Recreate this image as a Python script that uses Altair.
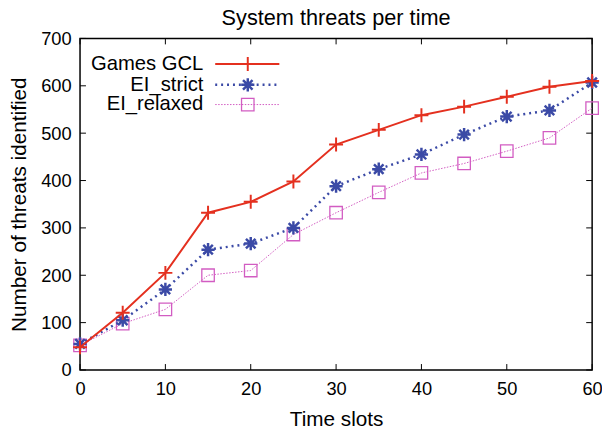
import altair as alt
import pandas as pd

# ---- data ----
time_slots = [0, 5, 10, 15, 20, 25, 30, 35, 40, 45, 50, 55, 60]
games_gcl = [48, 121, 205, 332, 355, 398, 476, 507, 538, 556, 577, 598, 610]
ei_strict = [55, 105, 170, 254, 267, 300, 388, 424, 455, 497, 535, 548, 607]
ei_relaxed = [52, 98, 128, 200, 210, 286, 332, 375, 416, 436, 462, 490, 553]
series_names = ["Games GCL", "EI_strict", "EI_relaxed"]
x_ticks = [0, 10, 20, 30, 40, 50, 60]
y_ticks = [0, 100, 200, 300, 400, 500, 600, 700]

W, H = 519, 336
FONT = "Liberation Sans"
RED, BLUE, PINK = "#e4301f", "#3b4aa6", "#d25cc2"
PLUS = "M-1,0L1,0M0,-1L0,1"
STAR = "M-1,0L1,0M0,-1L0,1M-0.72,-0.72L0.72,0.72M-0.72,0.72L0.72,-0.72"

xs = alt.Scale(domain=[0, 60], nice=False)
ys = alt.Scale(domain=[0, 700], nice=False)
xaxis = alt.Axis(title="Time slots", values=x_ticks, grid=False, ticks=False, tickSize=0,
                 domain=False, labelPadding=10, labelFontSize=18.5, titleFontSize=21,
                 titleFontWeight="normal", titleBaseline="alphabetic", titleY=56,
                 titleX=W / 2, titleAlign="center", labelFlush=False, labelOverlap=False)
yaxis = alt.Axis(title="Number of threats identified", values=y_ticks, grid=False, ticks=False,
                 tickSize=0, domain=False, labelPadding=9, labelFontSize=18.5, titleFontSize=21,
                 titleFontWeight="normal", titleBaseline="alphabetic", titleX=-55,
                 titleY=H / 2, titleAlign="center", titleAngle=270, labelFlush=False,
                 labelOverlap=False)


def series_layer(values, color, shape, size, mark_sw, line_sw, dash):
    df = pd.DataFrame({"t": time_slots, "v": values})
    base = alt.Chart(df).encode(
        x=alt.X("t:Q", scale=xs, axis=xaxis),
        y=alt.Y("v:Q", scale=ys, axis=yaxis),
    )
    line_kw = dict(color=color, strokeWidth=line_sw, clip=False)
    if dash:
        line_kw["strokeDash"] = dash
    line = base.mark_line(**line_kw)
    pts = base.mark_point(shape=shape, size=size, filled=False, stroke=color,
                          strokeWidth=mark_sw, opacity=1, clip=False)
    return line + pts


gcl_layer = series_layer(games_gcl, RED, PLUS, 200, 2, 2, None)
strict_layer = series_layer(ei_strict, BLUE, STAR, 180, 2.5, 2.5, [2, 4])
relaxed_layer = series_layer(ei_relaxed, PINK, "square", 160, 1.3, 1, [1.5, 1.5])

# ---- inward ticks on all four sides ----
xt = pd.DataFrame({"tx": x_ticks})
yt = pd.DataFrame({"ty": y_ticks})
TL = 6
tick_kw = dict(color="black", strokeWidth=1)
bx = alt.X("tx:Q", scale=xs, axis=xaxis)
by = alt.Y("ty:Q", scale=ys, axis=yaxis)
ticks = (
    alt.Chart(xt).mark_rule(**tick_kw).encode(x=bx, y=alt.value(H), y2=alt.value(H - TL))
    + alt.Chart(xt).mark_rule(**tick_kw).encode(x=bx, y=alt.value(0), y2=alt.value(TL))
    + alt.Chart(yt).mark_rule(**tick_kw).encode(y=by, x=alt.value(0), x2=alt.value(TL))
    + alt.Chart(yt).mark_rule(**tick_kw).encode(y=by, x=alt.value(W), x2=alt.value(W - TL))
)

# ---- legend (gnuplot style: label left, sample right) ----
leg_rows = [26, 47, 67]
leg_styles = [
    (RED, PLUS, 200, 2, 2, None),
    (BLUE, STAR, 180, 2.5, 2.5, [2, 4]),
    (PINK, "square", 160, 1.3, 1, [1.5, 1.5]),
]
legend = None
for name, row, st in zip(series_names, leg_rows, leg_styles):
    color, shape, size, msw, lsw, dash = st
    one = pd.DataFrame({"name": [name]})
    txt = alt.Chart(one).mark_text(align="right", baseline="middle", fontSize=20.5, font=FONT,
                                   color="black").encode(
        text="name:N", x=alt.value(125), y=alt.value(row))
    rkw = dict(color=color, strokeWidth=lsw)
    if dash:
        rkw["strokeDash"] = dash
    rl = alt.Chart(one).mark_rule(**rkw).encode(x=alt.value(137), x2=alt.value(202),
                                                 y=alt.value(row))
    pt = alt.Chart(one).mark_point(shape=shape, size=size, filled=False, stroke=color,
                                   strokeWidth=msw, opacity=1).encode(
        x=alt.value(170), y=alt.value(row))
    layer = txt + rl + pt
    legend = layer if legend is None else legend + layer

chart = alt.layer(ticks, relaxed_layer, strict_layer, gcl_layer, legend).properties(
    width=W, height=H,
    title=alt.TitleParams("System threats per time", fontSize=22, font=FONT,
                          fontWeight="normal", anchor="middle", offset=8, dy=8),
    autosize=alt.AutoSizeParams(type="none"),
    padding={"left": 73, "top": 28, "right": 10, "bottom": 60},
).configure(font=FONT).configure_axis(
    labelFont=FONT, titleFont=FONT, labelColor="black", titleColor="black"
).configure_view(stroke="black", strokeWidth=1.5)

chart.save("out.html", embed_options={"renderer": "svg", "actions": False})
